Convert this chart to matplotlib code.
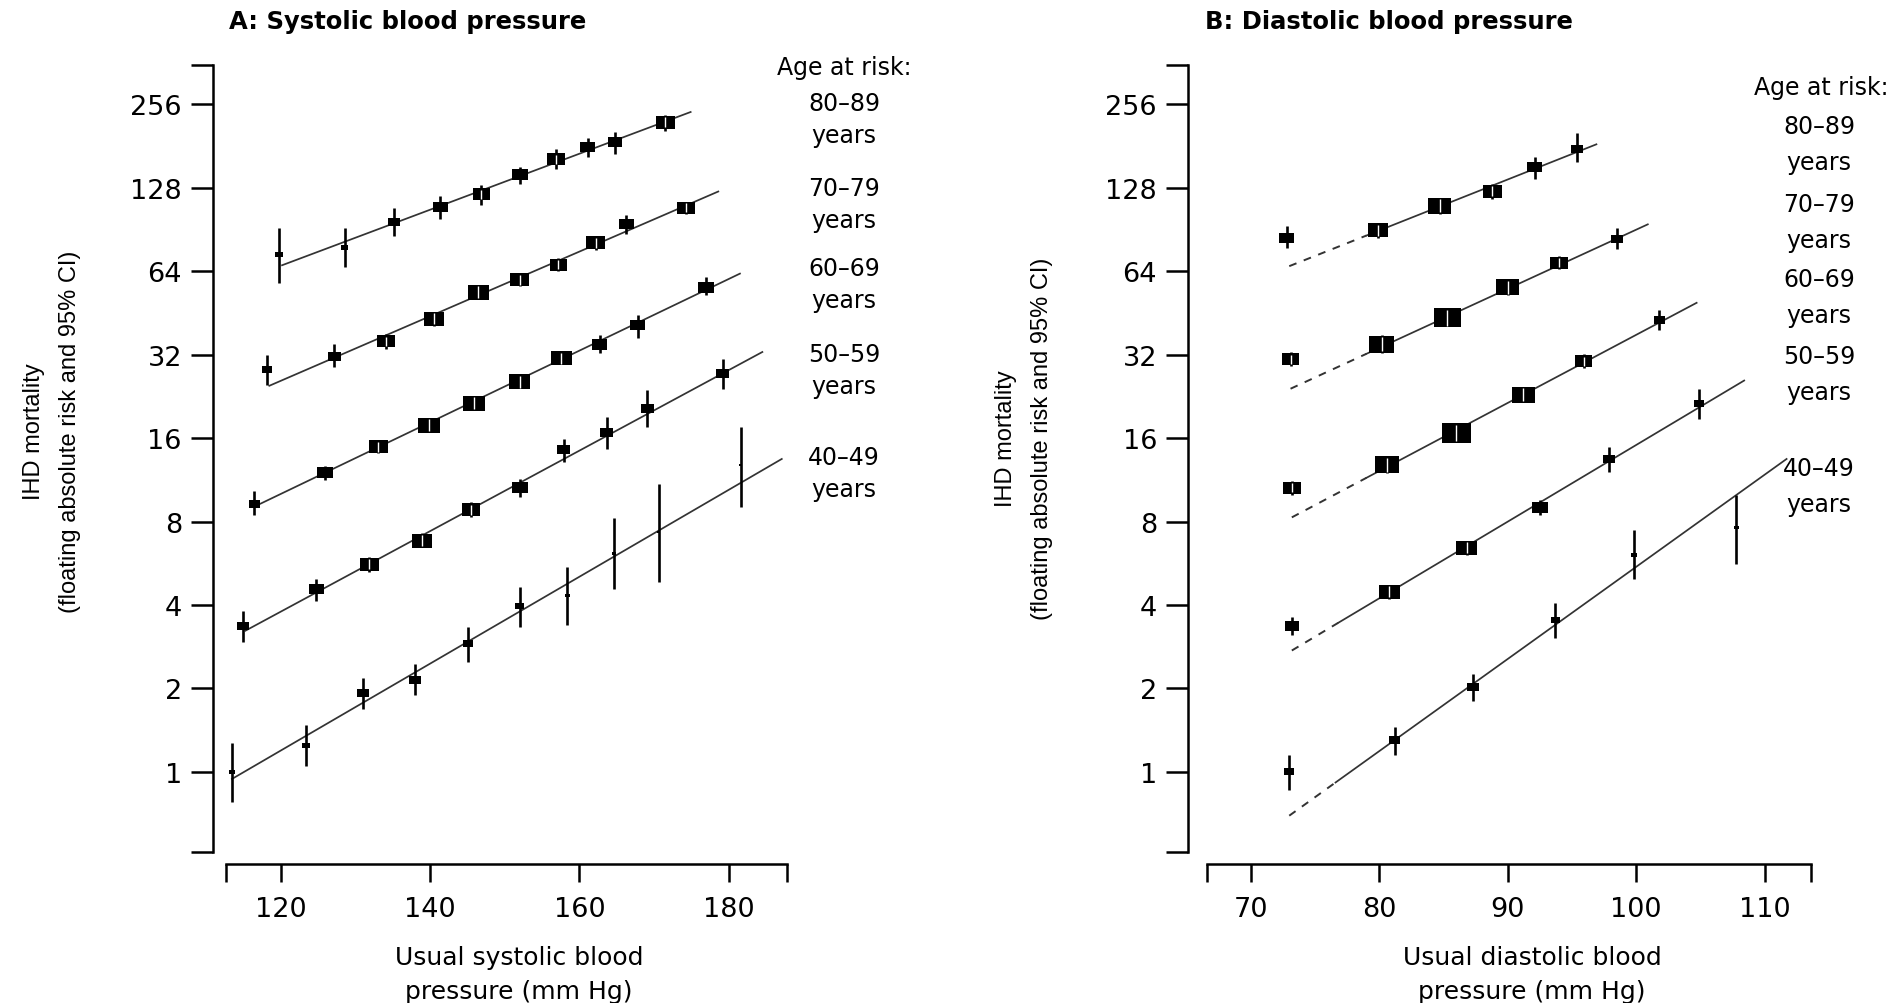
import numpy as np
import matplotlib
matplotlib.use("Agg")
import matplotlib.pyplot as plt

# ---- Panel A: usual systolic BP (mm Hg) vs IHD mortality, by age at risk ----
sbp40_x = [113.5, 123.4, 131.0, 138.0, 145.1, 152.0, 158.4, 164.6, 170.6, 181.6]
sbp40_rr = [1.00, 1.24, 1.92, 2.15, 2.90, 3.95, 4.33, 6.15, 7.32, 12.8]
sbp40_lo = [0.78, 1.05, 1.69, 1.89, 2.49, 3.34, 3.40, 4.57, 4.83, 9.0]
sbp40_hi = [1.27, 1.47, 2.18, 2.45, 3.34, 4.64, 5.48, 8.24, 10.9, 17.6]
sbp40_prec = [4, 5, 8, 8, 7, 6, 3, 3, 2.5, 2.5]

sbp50_x = [115.0, 124.8, 131.9, 138.9, 145.5, 152.0, 157.9, 163.7, 169.1, 179.2]
sbp50_rr = [3.36, 4.55, 5.60, 6.83, 8.82, 10.6, 14.6, 16.7, 20.4, 27.3]
sbp50_lo = [2.94, 4.15, 5.25, 6.45, 8.30, 9.8, 13.1, 14.6, 17.5, 24.1]
sbp50_hi = [3.82, 4.97, 5.98, 7.25, 9.40, 11.4, 15.9, 19.0, 23.8, 30.9]
sbp50_prec = [8, 10, 13, 14, 13, 11, 9, 9, 9, 9]

sbp60_x = [116.5, 126.0, 133.1, 139.9, 145.9, 152.0, 157.6, 162.7, 167.8, 176.9]
sbp60_rr = [9.27, 12.0, 14.9, 17.8, 21.4, 25.5, 31.1, 34.9, 40.8, 56.1]
sbp60_lo = [8.46, 11.3, 14.1, 16.9, 20.3, 24.2, 29.5, 32.3, 36.8, 52.4]
sbp60_hi = [10.3, 12.7, 15.7, 18.7, 22.5, 26.9, 32.8, 37.6, 44.6, 61.0]
sbp60_prec = [8, 11, 13, 15, 15, 15, 14, 11, 10, 11]

sbp70_x = [118.2, 127.2, 134.1, 140.5, 146.5, 152.0, 157.2, 162.2, 166.3, 174.3]
sbp70_rr = [28.2, 31.4, 35.8, 43.1, 53.8, 59.7, 67.6, 81.0, 94.3, 108.4]
sbp70_lo = [24.8, 28.9, 33.6, 40.6, 50.8, 56.5, 64.0, 76.5, 87.4, 103]
sbp70_hi = [32.0, 34.8, 38.0, 45.7, 57.0, 63.0, 71.4, 85.8, 102, 114]
sbp70_prec = [7, 9, 12, 14, 15, 13, 12, 13, 10, 12]

sbp80_x = [119.8, 128.6, 135.2, 141.4, 146.9, 152.0, 156.9, 161.1, 164.8, 171.5]
sbp80_rr = [73.5, 77.7, 96.3, 109, 121, 143, 162, 180, 187, 220]
sbp80_lo = [58.1, 66.3, 85.7, 98.4, 111, 132, 149, 165, 169, 205]
sbp80_hi = [91.9, 91.7, 108, 119, 131, 152, 176, 194, 204, 235]
sbp80_prec = [5, 5, 8, 10, 12, 11, 12, 10, 10, 13]

# fitted lines (40-49 ... 80-89)
sbp_fit_x0 = [113.5, 115.3, 117.0, 118.5, 120.2]
sbp_fit_x1 = [187.1, 184.5, 181.5, 178.6, 174.9]
sbp_fit_r0 = [0.943, 3.23, 9.19, 24.7, 67.2]
sbp_fit_r1 = [13.45, 32.7, 62.7, 124, 240]

# ---- Panel B: usual diastolic BP ----
dbp40_x = [73.0, 81.2, 87.3, 93.7, 99.8, 107.8]
dbp40_rr = [1.00, 1.30, 2.02, 3.52, 6.08, 7.6]
dbp40_lo = [0.86, 1.15, 1.80, 3.04, 4.97, 5.6]
dbp40_hi = [1.15, 1.45, 2.26, 4.08, 7.47, 10.0]
dbp40_prec = [7, 8, 8, 6, 4, 3]

dbp50_x = [73.2, 80.8, 86.8, 92.5, 97.9, 104.9]
dbp50_rr = [3.35, 4.47, 6.43, 9.01, 13.4, 21.3]
dbp50_lo = [3.11, 4.22, 6.06, 8.45, 12.1, 18.7]
dbp50_hi = [3.62, 4.74, 6.82, 9.6, 14.9, 24.1]
dbp50_prec = [10, 14, 14, 11, 8, 7]

dbp60_x = [73.2, 80.6, 86.0, 91.2, 95.9, 101.8]
dbp60_rr = [10.6, 12.8, 16.7, 22.9, 30.3, 42.5]
dbp60_lo = [10.0, 12.0, 15.6, 21.5, 28.6, 39.1]
dbp60_hi = [11.2, 13.7, 17.9, 24.4, 32.1, 46.2]
dbp60_prec = [12, 17, 20, 16, 12, 8]

dbp70_x = [73.1, 80.2, 85.3, 90.0, 94.0, 98.5]
dbp70_rr = [30.8, 34.9, 43.5, 56.0, 68.7, 83.9]
dbp70_lo = [29.0, 32.5, 40.5, 52.5, 65.0, 76.8]
dbp70_hi = [32.6, 37.5, 46.7, 59.7, 72.6, 91.3]
dbp70_prec = [12, 17, 19, 16, 12, 8]

dbp80_x = [72.8, 79.9, 84.7, 88.8, 92.1, 95.4]
dbp80_rr = [84.4, 89.9, 110, 124.4, 152, 177]
dbp80_lo = [77.7, 84.5, 103, 117, 138, 158]
dbp80_hi = [93.0, 95.5, 117, 132, 165, 201]
dbp80_prec = [10, 14, 16, 13, 10, 8]

# fitted lines: dashed from x0 to xs (extrapolated), solid xs to x1
dbp_fit_x0 = [73.0, 73.2, 73.2, 73.1, 73.0]
dbp_fit_xs = [76.6, 76.8, 79.0, 79.0, 79.0]
dbp_fit_x1 = [111.7, 108.4, 104.7, 100.9, 96.9]
dbp_fit_r0 = [0.695, 2.74, 8.28, 24.1, 66.7]
dbp_fit_r1 = [13.45, 25.8, 49.2, 94.4, 183.5]

sbp_ticks = [120, 140, 160, 180]
dbp_ticks = [70, 80, 90, 100, 110]
risk_ticks = [1, 2, 4, 8, 16, 32, 64, 128, 256]
age_groups = ['80\u201389', '70\u201379', '60\u201369', '50\u201359', '40\u201349']

sbp_groups = [
    (sbp40_x, sbp40_rr, sbp40_lo, sbp40_hi, sbp40_prec),
    (sbp50_x, sbp50_rr, sbp50_lo, sbp50_hi, sbp50_prec),
    (sbp60_x, sbp60_rr, sbp60_lo, sbp60_hi, sbp60_prec),
    (sbp70_x, sbp70_rr, sbp70_lo, sbp70_hi, sbp70_prec),
    (sbp80_x, sbp80_rr, sbp80_lo, sbp80_hi, sbp80_prec),
]
dbp_groups = [
    (dbp40_x, dbp40_rr, dbp40_lo, dbp40_hi, dbp40_prec),
    (dbp50_x, dbp50_rr, dbp50_lo, dbp50_hi, dbp50_prec),
    (dbp60_x, dbp60_rr, dbp60_lo, dbp60_hi, dbp60_prec),
    (dbp70_x, dbp70_rr, dbp70_lo, dbp70_hi, dbp70_prec),
    (dbp80_x, dbp80_rr, dbp80_lo, dbp80_hi, dbp80_prec),
]

plt.rcParams['font.family'] = ['DejaVu Sans']

W, H = 1890, 1004
fig = plt.figure(figsize=(W / 100, H / 100), dpi=100)


def fx(px):
    return px / W


def fy(py):
    return 1 - py / H


YLIM = (2 ** -0.96, 2 ** 8.47)
BOX = [(-0.725, -0.5), (0.725, -0.5), (0.725, 0.5), (-0.725, 0.5), (-0.725, -0.5)]
LINE_COL = '#333333'


def setup(ax, xlim, xticks, yoff):
    ax.set_yscale('log', base=2)
    ax.set_xlim(xlim)
    ax.set_ylim(YLIM)
    ax.patch.set_alpha(0)
    for s in ['top', 'right']:
        ax.spines[s].set_visible(False)
    ax.spines['left'].set_position(('outward', yoff))
    ax.spines['bottom'].set_position(('outward', 8.6))
    for s in ['left', 'bottom']:
        ax.spines[s].set_linewidth(1.8)
    ax.set_xticks([xlim[0]] + xticks + [xlim[1]])
    ax.set_xticklabels([''] + [str(t) for t in xticks] + [''])
    ax.set_yticks([YLIM[0]] + risk_ticks + [YLIM[1]])
    ax.set_yticklabels([''] + [str(t) for t in risk_ticks] + [''])
    ax.yaxis.set_minor_locator(plt.NullLocator())
    ax.tick_params(axis='y', length=15.8, width=1.8, pad=6.5, labelsize=19.5)
    ax.tick_params(axis='x', length=13, width=1.8, pad=10, labelsize=19.5)


def draw_points(ax, groups):
    ppl = ax.bbox.height / np.log2(YLIM[1] / YLIM[0])  # pixels per doubling
    for x, rr, lo, hi, prec in groups:
        ax.vlines(x, lo, hi, color='black', lw=1.9, zorder=3)
        ms = np.array(prec) * 1.45 * 0.72
        ax.scatter(x, rr, s=ms ** 2, marker=BOX, color='black', linewidths=0, zorder=4)
        # CI drawn in white where it falls inside a large box
        for xi, r, l, h, p in zip(x, rr, lo, hi, prec):
            if p >= 12:
                f = 2 ** ((p / 2 - 1.5) / ppl)
                ax.plot([xi, xi], [max(l, r / f), min(h, r * f)], color='white',
                        lw=1.0, zorder=5, solid_capstyle='butt')


axA = fig.add_axes([fx(226), fy(853), fx(787) - fx(226), (853 - 66) / H])
axB = fig.add_axes([fx(1207), fy(853), fx(1811) - fx(1207), (853 - 66) / H])
setup(axA, (112.7, 187.8), sbp_ticks, 9.4)
setup(axB, (66.6, 113.6), dbp_ticks, 13.7)

for x0, x1, r0, r1 in zip(sbp_fit_x0, sbp_fit_x1, sbp_fit_r0, sbp_fit_r1):
    axA.plot([x0, x1], [r0, r1], color=LINE_COL, lw=1.25, zorder=2)

for x0, xs, x1, r0, r1 in zip(dbp_fit_x0, dbp_fit_xs, dbp_fit_x1, dbp_fit_r0, dbp_fit_r1):
    rs = r0 * (r1 / r0) ** ((xs - x0) / (x1 - x0))
    axB.plot([x0, xs], [r0, rs], color=LINE_COL, lw=1.4, ls=(0, (4, 4)), zorder=2)
    axB.plot([xs, x1], [rs, r1], color=LINE_COL, lw=1.25, zorder=2)

draw_points(axA, sbp_groups)
draw_points(axB, dbp_groups)

# titles
fig.text(fx(229), fy(22), 'A: Systolic blood pressure', fontsize=17.5, fontweight='bold',
         ha='left', va='center')
fig.text(fx(1205), fy(22), 'B: Diastolic blood pressure', fontsize=17.5, fontweight='bold',
         ha='left', va='center')

# axis labels
fig.text(fx(519), fy(975), 'Usual systolic blood\npressure (mm Hg)', fontsize=18,
         ha='center', va='center', linespacing=1.55)
fig.text(fx(1532), fy(975), 'Usual diastolic blood\npressure (mm Hg)', fontsize=18,
         ha='center', va='center', linespacing=1.55)
ylab = 'IHD mortality\n(floating absolute risk and 95% CI)'
fig.text(fx(52), fy(432), ylab, rotation=90, fontsize=17, family='Liberation Sans',
         ha='center', va='center', linespacing=1.8, multialignment='center')
fig.text(fx(1024), fy(439), ylab, rotation=90, fontsize=17, family='Liberation Sans',
         ha='center', va='center', linespacing=1.8, multialignment='center')

# age-at-risk labels
fig.text(fx(844), fy(68), 'Age at risk:', fontsize=17, ha='center', va='center')
for lab, py in zip(age_groups, [120, 205, 285, 371, 474]):
    fig.text(fx(844), fy(py), lab + '\nyears', fontsize=17, ha='center', va='center',
             linespacing=1.38)
fig.text(fx(1821), fy(88), 'Age at risk:', fontsize=17, ha='center', va='center')
for lab, py in zip(age_groups, [145, 223, 298, 375, 487]):
    fig.text(fx(1819), fy(py), lab + '\nyears', fontsize=17, ha='center', va='center',
             linespacing=1.6)

fig.savefig('out.png', dpi=100)
